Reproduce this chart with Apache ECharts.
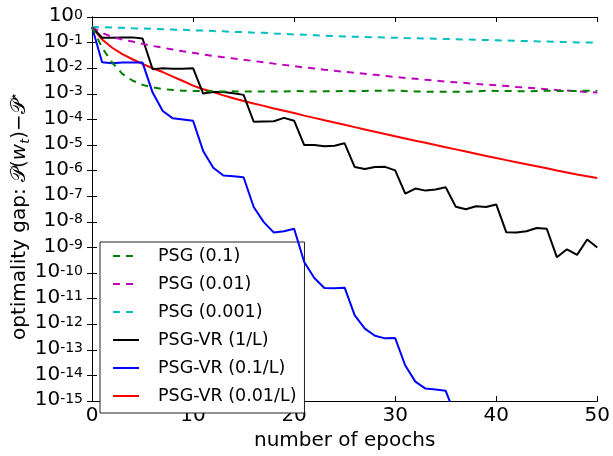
<!DOCTYPE html>
<html>
<head>
<meta charset="utf-8">
<script src="https://cdn.jsdelivr.net/npm/echarts@6/dist/echarts.min.js"></script>
<style>
html,body{margin:0;padding:0;background:#fff;}
#chart{width:613px;height:456px;}
</style>
</head>
<body>
<div id="chart"></div>
<script>
const epochs = [0,1,2,3,4,5,6,7,8,9,10,11,12,13,14,15,16,17,18,19,20,21,22,23,24,25,26,27,28,29,30,31,32,33,34,35,36,37,38,39,40,41,42,43,44,45,46,47,48,49,50];
const seriesNames = ['PSG (0.1)','PSG (0.01)','PSG (0.001)','PSG-VR (1/L)','PSG-VR (0.1/L)','PSG-VR (0.01/L)'];

const psg01 = [4.07e-1,6.31e-2,1.66e-2,6.03e-3,3.31e-3,2.24e-3,1.78e-3,1.55e-3,1.41e-3,1.32e-3,1.29e-3,
  1.27e-3,1.25e-3,1.24e-3,1.25e-3,1.23e-3,1.24e-3,1.22e-3,1.24e-3,1.23e-3,1.28e-3,
  1.26e-3,1.22e-3,1.25e-3,1.27e-3,1.28e-3,1.27e-3,1.3e-3,1.32e-3,1.33e-3,1.35e-3,
  1.28e-3,1.24e-3,1.21e-3,1.2e-3,1.21e-3,1.2e-3,1.21e-3,1.24e-3,1.32e-3,1.3e-3,
  1.28e-3,1.27e-3,1.25e-3,1.3e-3,1.32e-3,1.3e-3,1.28e-3,1.3e-3,1.32e-3,1.33e-3];

const psg001 = [4.07e-1,2.4e-1,1.66e-1,1.32e-1,1.1e-1,8.91e-2,7.41e-2,6.31e-2,5.37e-2,4.57e-2,3.98e-2,
  3.47e-2,3.02e-2,2.69e-2,2.4e-2,2.14e-2,1.91e-2,1.7e-2,1.51e-2,1.35e-2,1.2e-2,
  1.07e-2,9.77e-3,8.71e-3,7.94e-3,7.24e-3,6.61e-3,6.03e-3,5.5e-3,5.01e-3,4.57e-3,
  4.17e-3,3.89e-3,3.55e-3,3.31e-3,3.02e-3,2.82e-3,2.63e-3,2.45e-3,2.29e-3,2.14e-3,
  2.0e-3,1.86e-3,1.74e-3,1.62e-3,1.51e-3,1.41e-3,1.35e-3,1.26e-3,1.17e-3,1.12e-3];

const psg0001 = [4.07e-1,3.98e-1,3.89e-1,3.8e-1,3.63e-1,3.55e-1,3.47e-1,3.31e-1,3.24e-1,3.16e-1,3.02e-1,
  2.95e-1,2.82e-1,2.75e-1,2.63e-1,2.57e-1,2.45e-1,2.4e-1,2.29e-1,2.19e-1,2.09e-1,
  2.04e-1,1.95e-1,1.86e-1,1.78e-1,1.74e-1,1.7e-1,1.66e-1,1.62e-1,1.58e-1,1.55e-1,
  1.51e-1,1.48e-1,1.45e-1,1.41e-1,1.38e-1,1.35e-1,1.32e-1,1.29e-1,1.26e-1,1.23e-1,
  1.2e-1,1.17e-1,1.15e-1,1.12e-1,1.1e-1,1.07e-1,1.05e-1,1.02e-1,1.0e-1,1.0e-1];

const vr1 = [4.07e-1,1.55e-1,1.55e-1,1.58e-1,1.6e-1,1.45e-1,9.1e-3,1.0e-2,9.5e-3,9.5e-3,1.0e-2,
  1.02e-3,1.17e-3,1.17e-3,1.05e-3,9.1e-4,8.1e-5,8.3e-5,8.5e-5,1.15e-4,8.9e-5,
  1.0e-5,1.0e-5,8.9e-6,9.3e-6,1.17e-5,1.38e-6,1.17e-6,1.38e-6,1.41e-6,1.02e-6,
  1.26e-7,2.0e-7,1.66e-7,1.82e-7,2.24e-7,3.89e-8,3.09e-8,4.07e-8,3.8e-8,4.79e-8,
  3.89e-9,3.8e-9,4.27e-9,5.75e-9,5.37e-9,4.17e-10,8.5e-10,5.13e-10,2.04e-9,1.0e-9];

const vr01 = [4.07e-1,1.7e-2,1.55e-2,1.66e-2,1.66e-2,1.66e-2,1.12e-3,2.14e-4,1.1e-4,1.0e-4,8.9e-5,
  5.89e-6,1.29e-6,6.46e-7,6.03e-7,5.5e-7,3.8e-8,9.8e-9,3.8e-9,4.27e-9,5.37e-9,
  2.69e-10,6.46e-11,2.63e-11,2.57e-11,2.69e-11,2.24e-12,6.76e-13,3.55e-13,2.82e-13,2.88e-13,
  2.45e-14,5.75e-15,3.09e-15,2.82e-15,2.51e-15,2.5e-16];

const vr001 = [4.07e-1,1.32e-1,6.31e-2,3.55e-2,2.24e-2,1.48e-2,1.0e-2,7.08e-3,4.68e-3,3.16e-3,2.09e-3,
  1.51e-3,1.17e-3,8.7e-4,6.76e-4,5.25e-4,4.17e-4,3.39e-4,2.69e-4,2.19e-4,1.78e-4,
  1.41e-4,1.15e-4,9.3e-5,7.59e-5,6.17e-5,5.01e-5,4.07e-5,3.31e-5,2.69e-5,2.19e-5,
  1.8e-5,1.48e-5,1.22e-5,1.0e-5,8.2e-6,6.76e-6,5.56e-6,4.57e-6,3.76e-6,3.09e-6,
  2.57e-6,2.14e-6,1.78e-6,1.48e-6,1.23e-6,1.02e-6,8.5e-7,7.08e-7,6.03e-7,5.13e-7];

const xTicks = [0, 10, 20, 30, 40, 50];

const FONT = 'DejaVu Sans';
const chart = echarts.init(document.getElementById('chart'), null, {renderer: 'canvas'});

function pairs(arr) { return arr.map((v, i) => [epochs[i], v]); }

const styles = [
  {color: '#008000', type: [7, 6]},
  {color: '#bf00bf', type: [7, 6]},
  {color: '#00bfbf', type: [7, 6]},
  {color: '#000000', type: 'solid'},
  {color: '#0000ff', type: 'solid'},
  {color: '#ff0000', type: 'solid'}
];
const datasets = [psg01, psg001, psg0001, vr1, vr01, vr001];

const series = datasets.map((d, k) => ({
  name: seriesNames[k],
  type: 'line',
  xAxisIndex: 0,
  yAxisIndex: 0,
  data: pairs(d),
  showSymbol: false,
  symbol: 'none',
  clip: true,
  z: 10 - k,
  itemStyle: {color: styles[k].color},
  lineStyle: {color: styles[k].color, width: 2, type: styles[k].type}
}));

const axisLineStyle = {show: true, lineStyle: {color: '#000', width: 1}};

const option = {
  animation: false,
  backgroundColor: '#fff',
  grid: {left: 92, top: 17, width: 506, height: 395},
  legend: {
    data: seriesNames,
    orient: 'vertical',
    left: 100,
    top: 242,
    padding: [5, 8, 8, 12],
    itemWidth: 26,
    itemHeight: 16,
    itemGap: 10,
    itemStyle: {opacity: 0},
    borderColor: '#222',
    borderWidth: 1,
    backgroundColor: '#fff',
    textStyle: {fontFamily: FONT, fontSize: 17.5, color: '#000', lineHeight: 16, padding: [0, 0, 0, 14]}
  },
  xAxis: [
    {
      type: 'value', min: 0, max: 50, interval: 10, position: 'bottom',
      axisLine: axisLineStyle,
      axisTick: {show: true, inside: true, length: 5, lineStyle: {color: '#000'}},
      splitLine: {show: false},
      axisLabel: {fontFamily: FONT, fontSize: 20, color: '#000', margin: 5,
        showMinLabel: true, showMaxLabel: true,
        formatter: v => String(xTicks[xTicks.indexOf(v)])},
      name: 'number of epochs', nameLocation: 'middle', nameGap: 25,
      nameTextStyle: {fontFamily: FONT, fontSize: 20, color: '#000'}
    },
    {
      type: 'value', min: 0, max: 50, interval: 10, position: 'top',
      axisLine: axisLineStyle,
      axisTick: {show: true, inside: true, length: 5, lineStyle: {color: '#000'}},
      splitLine: {show: false},
      axisLabel: {show: false}
    }
  ],
  yAxis: [
    {
      type: 'log', logBase: 10, min: 1e-15, max: 1, interval: 1, position: 'left',
      axisLine: axisLineStyle,
      axisTick: {show: true, inside: true, length: 5, lineStyle: {color: '#000'}},
      minorTick: {show: false},
      splitLine: {show: false},
      axisLabel: {
        margin: 9,
        showMinLabel: true,
        showMaxLabel: true,
        hideOverlap: false,
        formatter: v => '{b|10}{s|' + Math.round(Math.log10(v)) + '}',
        rich: {
          b: {fontFamily: FONT, fontSize: 20, color: '#000', lineHeight: 18, padding: [5, 0, 0, 0], verticalAlign: 'bottom'},
          s: {fontFamily: FONT, fontSize: 14, color: '#000', lineHeight: 12, verticalAlign: 'top'}
        }
      }
    },
    {
      type: 'log', logBase: 10, min: 1e-15, max: 1, interval: 1, position: 'right',
      axisLine: axisLineStyle,
      axisTick: {show: true, inside: true, length: 5, lineStyle: {color: '#000'}},
      minorTick: {show: false},
      splitLine: {show: false},
      axisLabel: {show: false}
    }
  ],
  graphic: [
    {
      type: 'text',
      x: 20, y: 216,
      rotation: Math.PI / 2,
      style: {
        text: '{n|optimality gap: }{m|𝒫(}{it|w}{sub|t}{m|)−𝒫}{sup|⋆}',
        align: 'center',
        verticalAlign: 'middle',
        fill: '#000',
        rich: {
          n: {fontFamily: FONT, fontSize: 20, fill: '#000', lineHeight: 24, verticalAlign: 'middle'},
          m: {fontFamily: FONT, fontSize: 20, fill: '#000', lineHeight: 24, verticalAlign: 'middle'},
          it: {fontFamily: FONT, fontSize: 20, fontStyle: 'italic', fill: '#000', lineHeight: 24, verticalAlign: 'middle'},
          sub: {fontFamily: FONT, fontSize: 13, fontStyle: 'italic', fill: '#000', lineHeight: 13, verticalAlign: 'bottom'},
          sup: {fontFamily: FONT, fontSize: 13, fill: '#000', lineHeight: 13, verticalAlign: 'top'}
        }
      }
    }
  ],
  series: series
};

chart.setOption(option);
</script>
</body>
</html>
